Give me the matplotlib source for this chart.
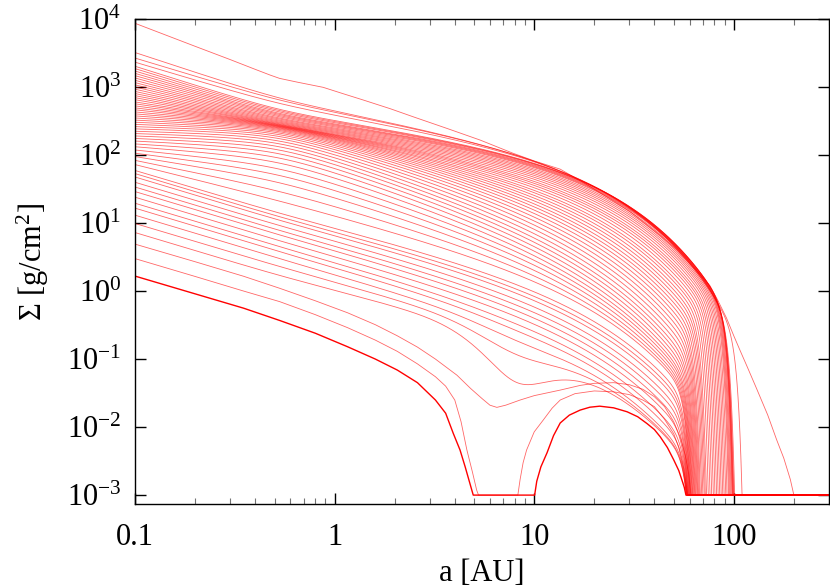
import numpy as np
import matplotlib
matplotlib.use('Agg')
import matplotlib.pyplot as plt
from matplotlib.ticker import FixedLocator, FixedFormatter, LogLocator, NullFormatter

plt.rcParams['font.family'] = ['Liberation Serif', 'DejaVu Serif']
plt.rcParams['mathtext.fontset'] = 'custom'
plt.rcParams['mathtext.rm'] = 'Liberation Serif'
plt.rcParams['mathtext.it'] = 'Liberation Serif:italic'

FLOOR = 1e-3   # surface density floor of the code
RC = 20.0      # outer taper radius [AU]
M_TRUNC = 20   # sharpness of the outer truncation

# initial snapshot (top curve)
top_a = [0.1, 0.2, 0.3, 0.4, 0.475, 0.53, 0.65, 0.876, 1.1, 1.39, 1.9, 2.47, 3.66,
         5.36, 7.85, 10, 13.5, 18, 24.5, 30, 35, 43, 52, 65, 76, 83, 92, 100, 108,
         117, 130, 148, 164, 178, 192, 200, 300]
top_sig = [8650, 3970, 2530, 1820, 1500, 1340, 1180, 990, 800, 645, 480, 366, 246,
           166, 106, 82, 62, 38, 21.8, 15, 10.5, 6.5, 4.0, 2.0, 1.2, 0.74, 0.4, 0.22, 0.13,
           0.076, 0.037, 0.015, 0.0065, 0.0035, 0.0017, 0.001, 0.001]

# later snapshots: sigma at 0.1, 0.53 and 13.5 AU, radius where they hit the floor
sig_in = [3500, 2860, 2500,
          2240, 2060, 1890, 1740, 1600, 1470, 1350, 1240, 1140, 1050,
          965, 885, 815, 750, 690, 635, 580, 535, 490, 450,
          415, 380, 350, 322, 296, 272, 250, 230, 211, 194,
          178, 164, 151, 139, 128, 117, 108, 99, 91, 84, 77, 70,
          60, 54, 48, 40, 34, 29, 24, 19.5, 16.5, 13, 9.9, 7.4]
sig_mid = [690, 645, 575,
           470, 450, 430, 410, 395, 380, 365, 350, 338, 326,
           315, 305, 296, 288, 282, 277, 272, 268, 264, 260,
           255, 250, 244, 237, 229, 220, 210, 199, 187, 174,
           160, 146, 132, 118, 104, 90, 76, 62, 50, 39, 29, 21,
           14, 12.4, 11, 9.2, 7.8, 6.7, 5.5, 4.5, 3.8, 3.0, 2.3, 1.7]
sig_out = [65, 64.5, 64,
           64, 63, 62, 60, 58, 56, 54, 51, 48, 45,
           42, 39, 36, 33, 30, 27.5, 25, 22.5, 20, 18,
           16, 14.2, 12.6, 11.1, 9.8, 8.6, 7.5, 6.5, 5.6, 4.8,
           4.1, 3.5, 3.0, 2.6, 2.25, 1.95, 1.7, 1.5, 1.32, 1.16, 1.02, 0.9,
           0.68, 0.58, 0.5, 0.4, 0.33, 0.27, 0.22, 0.175, 0.145, 0.115, 0.1, 0.09]
r_edge = [110, 101, 100,
          99.5, 99, 98.5, 98, 97, 96, 95, 94, 92.5, 91,
          89.5, 88, 86.5, 85, 83.5, 82, 80.5, 79, 77.5, 76,
          74.5, 73, 72, 71, 70, 69, 68, 67.3, 66.6, 66,
          65.4, 64.8, 64.2, 63.7, 63.2, 62.7, 62.2, 61.8, 61.4, 61.0, 60.6, 60.3,
          60.0, 59.7, 59.4, 59.1, 58.9, 58.7, 58.5, 58.3, 58.1, 58.0, 57.9, 57.8]
dip = [0] * 52 + [0.01, 0.02, 0.04, 0.08, 0.13]

# last three snapshots, where the photoevaporative gap opens
gap3_a = [0.1, 0.2, 0.35, 0.53, 0.8, 1.16, 1.6, 2.06, 2.6, 3.2, 4.1, 4.8, 5.5, 6.0,
          6.5, 7.2, 8.5, 10, 13.5, 17, 20, 25, 30, 35, 40, 45, 50, 54, 57, 59.5, 61, 300]
gap3_sig = [4.9, 2.7, 1.65, 1.1, 0.72, 0.48, 0.32, 0.22, 0.15, 0.1, 0.058, 0.037, 0.026,
            0.021, 0.0195, 0.021, 0.025, 0.029, 0.035, 0.041, 0.044, 0.045, 0.042, 0.036,
            0.028, 0.02, 0.012, 0.007, 0.004, 0.002, 0.001, 0.001]
gap2_a = [0.1, 0.2, 0.35, 0.53, 0.8, 1.16, 1.6, 2.06, 2.6, 3.2, 3.6, 4.0, 4.3, 4.6,
          4.9, 5.15, 5.26, 8.28, 8.5, 8.8, 9.16, 10, 11.1, 12.3, 13.5, 16, 20, 25, 30,
          35, 40, 45, 50, 53, 56, 58, 58.6, 300]
gap2_sig = [3.0, 1.64, 1.0, 0.70, 0.45, 0.29, 0.19, 0.13, 0.085, 0.055, 0.04, 0.025,
            0.012, 0.0046, 0.0022, 0.00118, 0.001, 0.001, 0.0017, 0.003, 0.0046, 0.0085,
            0.0127, 0.019, 0.025, 0.031, 0.034, 0.033, 0.03, 0.025, 0.02, 0.013, 0.008,
            0.005, 0.0025, 0.0013, 0.001, 0.001]
gap1_a = [0.1, 0.2, 0.35, 0.53, 0.8, 1.16, 1.6, 2.06, 2.6, 3.2, 3.6, 3.93, 4.25, 4.51,
          4.7, 4.87, 4.95, 10.05, 10.3, 10.8, 11.6, 12.5, 13.5, 15, 17, 19, 21.3, 25,
          29.2, 33, 36.7, 40, 42.8, 46.5, 50, 53, 55, 56.5, 57.6, 300]
gap1_sig = [1.66, 0.91, 0.56, 0.37, 0.24, 0.152, 0.1, 0.069, 0.045, 0.025, 0.016, 0.0081,
            0.0046, 0.0026, 0.0017, 0.00118, 0.001, 0.001, 0.0016, 0.0026, 0.0042, 0.0075,
            0.0115, 0.015, 0.0178, 0.0196, 0.0203, 0.0192, 0.0168, 0.0142, 0.0113, 0.0092,
            0.0072, 0.005, 0.0033, 0.0023, 0.00166, 0.0013, 0.001, 0.001]


def profile(a, s_in, s_mid, s_out, edge, d):
    # broken power law through the three read values, outer exponential taper
    q1 = np.log10(s_in / s_mid) / np.log10(0.53 / 0.1)
    q2 = (np.log10(s_mid / s_out) - (12.97 / RC) * np.log10(np.e)) / np.log10(13.5 / 0.53)
    L = np.log10(a / 0.53)
    dl = 0.25
    logs = -(q1 + q2) / 2 * L + (q1 - q2) / 2 * (np.sqrt(L ** 2 + dl ** 2) - dl)
    sig = s_mid * 10 ** logs * np.exp(-(a - 0.53) / RC)
    sig = sig - d * np.exp(-0.5 * (np.log10(a / 6.5) / 0.2) ** 2)
    i_e = np.searchsorted(a, edge)
    s_e = sig[min(i_e, len(a) - 1)]
    if s_e > FLOOR * 1.01:
        rt = edge / np.log(s_e / FLOOR) ** (1.0 / M_TRUNC)
        sig = sig * np.exp(-(a / rt) ** M_TRUNC)
    return np.clip(sig, FLOOR, None)


fig = plt.figure(figsize=(8.3, 5.87), dpi=100)
ax = fig.add_axes([0.1627, 0.1414, 0.8361, 0.8262])

LC = 'red'
LW = 0.6
AL = 0.6
a = np.logspace(-1, np.log10(300), 3000)
ax.plot(top_a, top_sig, color=LC, lw=LW, alpha=AL)
for s_in, s_mid, s_out, edge, d in zip(sig_in, sig_mid, sig_out, r_edge, dip):
    ax.plot(a, profile(a, s_in, s_mid, s_out, edge, d), color=LC, lw=LW, alpha=AL)
ax.plot(gap3_a, gap3_sig, color=LC, lw=LW, alpha=AL)
ax.plot(gap2_a, gap2_sig, color=LC, lw=LW, alpha=AL)
ax.plot(gap1_a, gap1_sig, color=LC, lw=1.0)

ax.set_xscale('log')
ax.set_yscale('log')
ax.set_xlim(0.1, 300)
ax.set_ylim(7.4e-4, 1e4)

ax.xaxis.set_major_locator(FixedLocator([0.1, 1, 10, 100]))
ax.xaxis.set_major_formatter(FixedFormatter(['0.1', '1', '10', '100']))
ax.xaxis.set_minor_locator(LogLocator(base=10, subs=np.arange(2, 10)))
ax.xaxis.set_minor_formatter(NullFormatter())
yt = [10.0 ** e for e in range(-3, 5)]
ax.yaxis.set_major_locator(FixedLocator(yt))
ax.yaxis.set_major_formatter(FixedFormatter([r'$10^{%d}$' % e for e in range(-3, 5)]))
ax.yaxis.set_minor_locator(LogLocator(base=10, subs=np.arange(2, 10)))
ax.yaxis.set_minor_formatter(NullFormatter())

ax.tick_params(which='both', direction='in', top=True, right=True, labelsize=22)
ax.tick_params(which='major', length=8, width=1.0, color='black')
ax.tick_params(which='minor', length=4, width=0.8, color='0.45')
ax.tick_params(axis='x', which='major', pad=14)
ax.tick_params(axis='y', which='major', pad=10)
for sp in ax.spines.values():
    sp.set_linewidth(1.0)

ax.set_xlabel('a [AU]', fontsize=22, labelpad=5)
ax.set_ylabel(r'$\Sigma$ [g/cm$^2$]', fontsize=22, labelpad=11)

fig.savefig('out.png', dpi=100)
